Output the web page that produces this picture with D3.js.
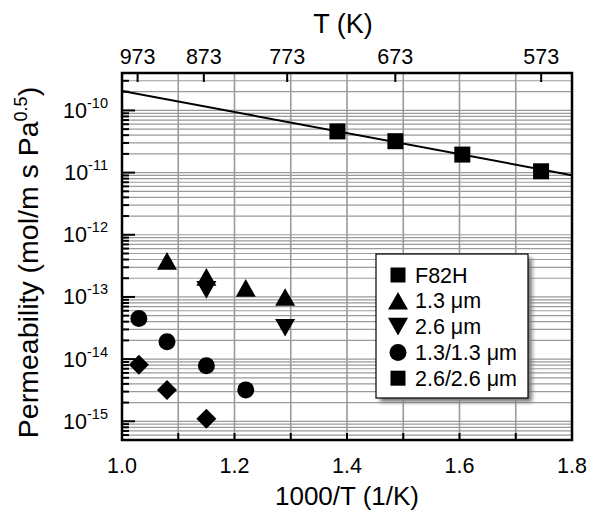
<!DOCTYPE html>
<html>
<head>
<meta charset="utf-8">
<script src="https://cdn.jsdelivr.net/npm/d3@7"></script>
<style>
  body { margin: 0; background: #fff; }
  svg { font-family: "Liberation Sans", Arial, sans-serif; }
</style>
</head>
<body>
<div id="chart"></div>
<script>
// data (x = 1000/T, y = permeability)
const f82hX = [1.383, 1.486, 1.605, 1.745];
const f82hY = [4.6e-11, 3.2e-11, 1.95e-11, 1.05e-11];
const fitX = [1.0, 1.8];
const fitY = [2.05e-10, 9.1e-12];
const um13X = [1.08, 1.15, 1.22, 1.29];
const um13Y = [3.8e-13, 2.1e-13, 1.4e-13, 1.0e-13];
const um26X = [1.15, 1.29];
const um26Y = [1.3e-13, 3.2e-14];
const dual13X = [1.03, 1.08, 1.15, 1.22];
const dual13Y = [4.5e-14, 1.9e-14, 7.8e-15, 3.2e-15];
const dual26X = [1.03, 1.08, 1.15];
const dual26Y = [8.1e-15, 3.2e-15, 1.1e-15];

const xTicks = [1.0, 1.2, 1.4, 1.6, 1.8];
const topTicksT = [973, 873, 773, 673, 573];
const yExponents = [-10, -11, -12, -13, -14, -15];
const legendLabels = ["F82H", "1.3 μm", "2.6 μm", "1.3/1.3 μm", "2.6/2.6 μm"];

const width = 589;
const height = 513;
const margin = { top: 73, right: 17, bottom: 73, left: 122 };

const x = d3.scaleLinear().domain([1.0, 1.8]).range([margin.left, width - margin.right]);
const y = d3.scaleLog().domain([5e-16, 4e-10]).range([height - margin.bottom, margin.top]);

// markers centred on their bounding box, size = width in px
const shapes = {
  square: { draw(c, s) { const h = s / 2; c.rect(-h, -h, s, s); } },
  circle: { draw(c, s) { c.moveTo(s / 2, 0); c.arc(0, 0, s / 2, 0, 2 * Math.PI); } },
  diamond: { draw(c, s) { const h = s / 2; c.moveTo(0, -h); c.lineTo(h, 0); c.lineTo(0, h); c.lineTo(-h, 0); c.closePath(); } },
  up: { draw(c, s) { const h = s * 0.44; c.moveTo(0, -h); c.lineTo(s / 2, h); c.lineTo(-s / 2, h); c.closePath(); } },
  down: { draw(c, s) { const h = s * 0.44; c.moveTo(0, h); c.lineTo(s / 2, -h); c.lineTo(-s / 2, -h); c.closePath(); } }
};

const series = [
  { xs: f82hX, ys: f82hY, shape: "square", size: 16 },
  { xs: um13X, ys: um13Y, shape: "up", size: 20 },
  { xs: um26X, ys: um26Y, shape: "down", size: 20 },
  { xs: dual13X, ys: dual13Y, shape: "circle", size: 17 },
  { xs: dual26X, ys: dual26Y, shape: "diamond", size: 20 }
];
const legendShapes = ["square", "up", "down", "circle", "square"];
const legendSizes = [15, 20, 20, 17, 15];

const svg = d3.select("#chart").append("svg")
  .attr("width", width)
  .attr("height", height);

const defs = svg.append("defs");
defs.append("filter").attr("id", "blur")
  .append("feGaussianBlur").attr("stdDeviation", 2);
defs.append("clipPath").attr("id", "plotclip")
  .append("rect")
  .attr("x", margin.left).attr("y", margin.top)
  .attr("width", width - margin.left - margin.right)
  .attr("height", height - margin.top - margin.bottom);

// grid
const grid = svg.append("g").attr("stroke", "#9a9a9a");
const minorY = [];
for (let e = -16; e <= -10; e++) {
  for (let m = 1; m <= 9; m++) {
    const v = m * Math.pow(10, e);
    if (v > 5e-16 && v < 4e-10) minorY.push({ v, major: m === 1 });
  }
}
grid.selectAll(".hg").data(minorY).enter().append("line")
  .attr("x1", margin.left).attr("x2", width - margin.right)
  .attr("y1", d => y(d.v)).attr("y2", d => y(d.v))
  .attr("stroke-width", 1.2);
const xGrid = d3.range(1.1, 1.75, 0.1);
grid.selectAll(".vg").data(xGrid).enter().append("line")
  .attr("x1", d => x(d)).attr("x2", d => x(d))
  .attr("y1", margin.top).attr("y2", height - margin.bottom)
  .attr("stroke-width", 1.6);

// axes ticks (inside)
const ticks = svg.append("g").attr("stroke", "#000").attr("stroke-width", 2);
ticks.selectAll(".ly").data(minorY).enter().append("line")
  .attr("x1", margin.left).attr("x2", d => margin.left + (d.major ? 13 : 7))
  .attr("y1", d => y(d.v)).attr("y2", d => y(d.v));
ticks.selectAll(".bx").data(d3.range(1.1, 1.75, 0.1)).enter().append("line")
  .attr("x1", d => x(d)).attr("x2", d => x(d))
  .attr("y1", height - margin.bottom).attr("y2", height - margin.bottom - 7);
ticks.selectAll(".tx").data(topTicksT).enter().append("line")
  .attr("x1", d => x(1000 / d)).attr("x2", d => x(1000 / d))
  .attr("y1", margin.top).attr("y2", margin.top + 9);

// fit line
const plot = svg.append("g").attr("clip-path", "url(#plotclip)");
plot.append("path")
  .datum(fitX.map((v, i) => [v, fitY[i]]))
  .attr("fill", "none")
  .attr("stroke", "#000")
  .attr("stroke-width", 2)
  .attr("d", d3.line().x(d => x(d[0])).y(d => y(d[1])));

// markers
series.forEach(s => {
  svg.append("g").selectAll("path")
    .data(s.xs.map((v, i) => [v, s.ys[i]]))
    .enter().append("path")
    .attr("transform", d => `translate(${x(d[0])},${y(d[1])})`)
    .attr("d", d3.symbol().type(shapes[s.shape]).size(s.size))
    .attr("fill", "#000");
});

// frame
svg.append("rect")
  .attr("x", margin.left).attr("y", margin.top)
  .attr("width", width - margin.left - margin.right)
  .attr("height", height - margin.top - margin.bottom)
  .attr("fill", "none").attr("stroke", "#000").attr("stroke-width", 2.5);

// bottom labels
svg.append("g").selectAll("text").data(xTicks).enter().append("text")
  .attr("x", d => x(d)).attr("y", height - margin.bottom + 33)
  .attr("text-anchor", "middle").attr("font-size", "21.5px")
  .text(d => d.toFixed(1));
svg.append("text")
  .attr("x", x(1.4)).attr("y", 505)
  .attr("text-anchor", "middle").attr("font-size", "26px")
  .text("1000/T (1/K)");

// top labels
svg.append("g").selectAll("text").data(topTicksT).enter().append("text")
  .attr("x", d => x(1000 / d)).attr("y", margin.top - 9)
  .attr("text-anchor", "middle").attr("font-size", "21.5px")
  .text(d => d);
svg.append("text")
  .attr("x", 343).attr("y", 33)
  .attr("text-anchor", "middle").attr("font-size", "27px")
  .text("T (K)");

// left labels 10^n
const yl = svg.append("g").selectAll("text").data(yExponents).enter().append("text")
  .attr("x", 108).attr("y", d => y(Math.pow(10, d)) + 7.5)
  .attr("text-anchor", "end").attr("font-size", "21.5px");
yl.append("tspan").text("10");
yl.append("tspan").attr("dy", -10).attr("font-size", "14.5px").text(d => "-" + Math.abs(d));

const yt = svg.append("text")
  .attr("transform", `translate(38,${(margin.top + height - margin.bottom) / 2 + 6}) rotate(-90)`)
  .attr("text-anchor", "middle").attr("font-size", "28.5px");
yt.append("tspan").text("Permeability (mol/m s Pa");
yt.append("tspan").attr("dy", -11).attr("font-size", "18px").text("0.5");
yt.append("tspan").attr("dy", 11).text(")");

// legend
const lg = svg.append("g").attr("transform", "translate(376,254)");
const lw = 152, lh = 144;
lg.append("rect").attr("x", 4).attr("y", 4).attr("width", lw).attr("height", lh)
  .attr("fill", "#777").attr("filter", "url(#blur)");
lg.append("rect").attr("width", lw).attr("height", lh)
  .attr("fill", "#fff").attr("stroke", "#000").attr("stroke-width", 1.2);
const rows = lg.selectAll(".row").data(legendLabels).enter().append("g")
  .attr("transform", (d, i) => `translate(0,${21 + i * 25.8})`);
rows.append("path")
  .attr("transform", "translate(22,0)")
  .attr("d", (d, i) => d3.symbol().type(shapes[legendShapes[i]]).size(legendSizes[i])())
  .attr("fill", "#000");
rows.append("text")
  .attr("x", 39).attr("y", 7.5)
  .attr("font-size", "21.5px")
  .text(d => d);
</script>
</body>
</html>
